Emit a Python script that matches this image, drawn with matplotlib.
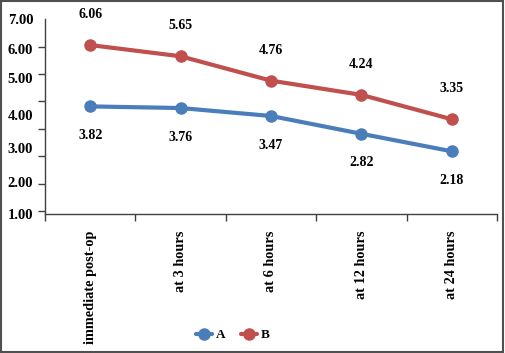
import matplotlib
matplotlib.use("Agg")
import matplotlib.pyplot as plt
from matplotlib.patches import Rectangle

categories = ["immediate post-op", "at 3 hours", "at 6 hours", "at 12 hours", "at 24 hours"]
series_a = [3.82, 3.76, 3.47, 2.82, 2.18]
series_b = [6.06, 5.65, 4.76, 4.24, 3.35]
ytick_labels = ["7.00", "6.00", "5.00", "4.00", "3.00", "2.00", "1.00"]
ytick_label_pos = [7.0, 5.92, 4.85, 3.52, 2.3, 1.05, -0.12]

plt.rcParams['font.family'] = ['Liberation Serif', 'DejaVu Serif']
plt.rcParams['font.weight'] = 'bold'

fig = plt.figure(figsize=(5.05, 3.53), dpi=100)
ax = fig.add_axes([45/505, 1 - 214.3/353, (497-45)/505, (214.3-19.3)/353])

blue = "#4a7ebb"
red = "#c0504d"
x = list(range(len(categories)))
ax.plot(x, series_a, color=blue, lw=3, marker='o', ms=8, label='A', solid_capstyle='round')
ax.plot(x, series_b, color=red, lw=3, marker='o', ms=8, label='B', solid_capstyle='round')

for xi, v in zip(x, series_a):
    ax.annotate(f"{v:.2f}", (xi, v), xytext=(0, -21), textcoords='offset points',
                ha='center', va='center', fontsize=10, fontweight='bold')
for xi, v in zip(x, series_b):
    ax.annotate(f"{v:.2f}", (xi, v), xytext=(0, 22), textcoords='offset points',
                ha='center', va='center', fontsize=10, fontweight='bold')

ax.set_xlim(-0.5, len(categories) - 0.5)
ax.set_ylim(0, 7)

# y ticks: marks at integers, labels at their drawn positions
ax.set_yticks(range(0, 8), minor=True)
ax.set_yticks(ytick_label_pos)
ax.set_yticklabels(ytick_labels, fontsize=10.5, fontweight='bold')
ax.tick_params(axis='y', which='major', length=0, pad=8.5)
ax.tick_params(axis='y', which='minor', length=5, width=1, color='#404040')

# x ticks: marks at boundaries, labels at category centers
ax.set_xticks([i - 0.5 for i in range(len(categories) + 1)], minor=True)
ax.set_xticks(x)
ax.set_xticklabels(categories, rotation=90, fontsize=10.3, fontweight='bold', va='top')
ax.tick_params(axis='x', which='major', length=0, pad=11.5)
ax.tick_params(axis='x', which='minor', length=5, width=1, color='#404040')

for s in ['top', 'right']:
    ax.spines[s].set_visible(False)
for s in ['left', 'bottom']:
    ax.spines[s].set_color('#404040')
    ax.spines[s].set_linewidth(1)

leg = fig.legend(loc='center', bbox_to_anchor=(233/505, 1 - 335/353), ncol=2, frameon=False,
                 fontsize=9.5, handlelength=1.2, handletextpad=0.3, columnspacing=1.2)

fig.patches.append(Rectangle((0.002, 0.003), 0.995, 0.993, transform=fig.transFigure,
                             fill=False, edgecolor='#505050', lw=1.5))

fig.savefig("out.png", dpi=100)
